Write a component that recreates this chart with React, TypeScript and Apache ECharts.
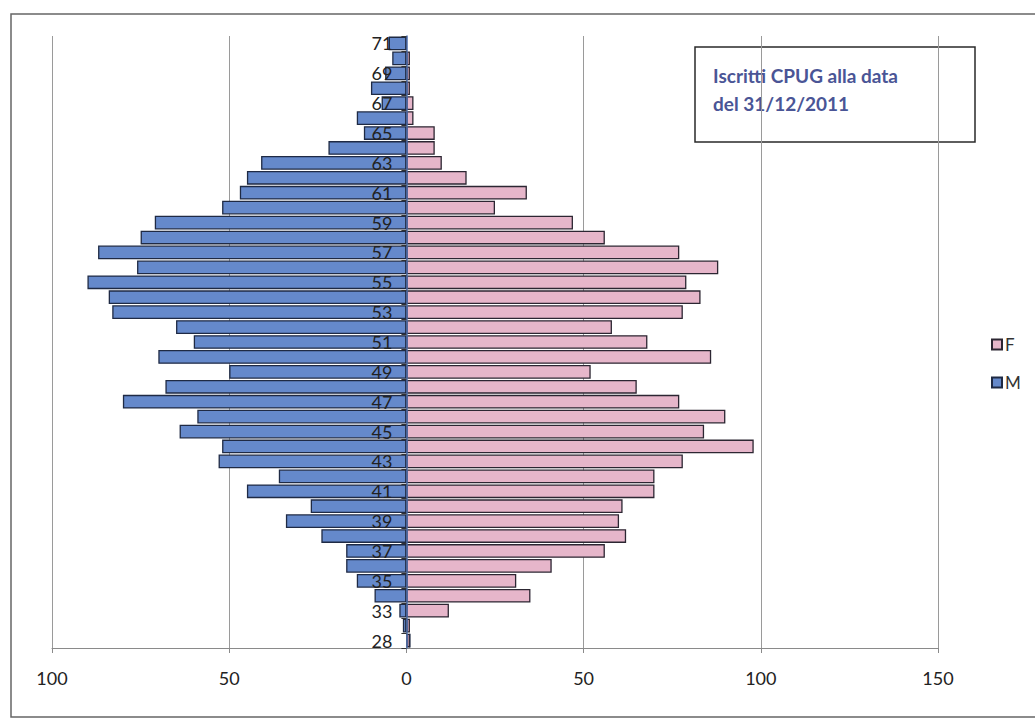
import React, { useEffect, useRef } from "react";
import * as echarts from "echarts";

// Age classes, bottom to top of the pyramid
const ages = [
  "28", "31", "33", "34", "35", "36", "37", "38", "39", "40",
  "41", "42", "43", "44", "45", "46", "47", "48", "49", "50",
  "51", "52", "53", "54", "55", "56", "57", "58", "59", "60",
  "61", "62", "63", "64", "65", "66", "67", "68", "69", "70", "71",
];

// Registered members per age, men
const maleCounts = [
  0, 1, 2, 9, 14, 17, 17, 24, 34, 27,
  45, 36, 53, 52, 64, 59, 80, 68, 50, 70,
  60, 65, 83, 84, 90, 76, 87, 75, 71, 52,
  47, 45, 41, 22, 12, 14, 7, 10, 6, 4, 5,
];

// Registered members per age, women
const femaleCounts = [
  1, 1, 12, 35, 31, 41, 56, 62, 60, 61,
  70, 70, 78, 98, 84, 90, 77, 65, 52, 86,
  68, 58, 78, 83, 79, 88, 77, 56, 47, 25,
  34, 17, 10, 8, 8, 2, 2, 1, 1, 1, 0,
];

const titleLines = ["Iscritti CPUG alla data", "del 31/12/2011"];

const FONT = "Lato, 'Open Sans', sans-serif";

// Value axis range; the age axis sits on the zero line
const X_MIN = -100;
const X_MAX = 150;
const GRID_LEFT = 52;
const GRID_RIGHT = 97;
const WIDTH = 1035;

export default function App() {
  const ref = useRef<HTMLDivElement>(null);

  useEffect(() => {
    if (!ref.current) return;
    const chart = echarts.init(ref.current, null, { renderer: "svg" });
    const plotWidth = WIDTH - GRID_LEFT - GRID_RIGHT;
    const zeroOffset = (plotWidth * (0 - X_MIN)) / (X_MAX - X_MIN);
    chart.setOption({
      animation: false,
      backgroundColor: "#ffffff",
      textStyle: { fontFamily: FONT },
      grid: { left: GRID_LEFT, right: GRID_RIGHT, top: 36, bottom: 72, containLabel: false },
      legend: {
        orient: "vertical",
        left: 986,
        top: 331,
        itemWidth: 10,
        itemHeight: 10,
        itemGap: 21,
        icon: "rect",
        data: ["F", "M"],
        textStyle: { fontSize: 17, color: "#333", fontFamily: FONT, padding: [0, 0, 0, -2] },
      },
      xAxis: {
        type: "value",
        min: X_MIN,
        max: X_MAX,
        interval: 50,
        axisLine: { show: true, lineStyle: { color: "#8a8a8a", width: 1 } },
        axisTick: { show: true, length: 5, lineStyle: { color: "#8a8a8a" } },
        splitLine: { show: true, lineStyle: { color: "#9a9a9a", width: 1 } },
        axisLabel: {
          margin: 21,
          fontSize: 18,
          color: "#222",
          fontFamily: FONT,
          formatter: (v: number) => String(Math.abs(v)),
        },
      },
      yAxis: {
        type: "category",
        data: ages,
        position: "left",
        offset: -zeroOffset,
        axisLine: { show: true, onZero: false, lineStyle: { color: "#4d6fae", width: 1.5 } },
        axisTick: { show: true, length: 5, interval: 0, lineStyle: { color: "#333" } },
        axisLabel: {
          interval: 1,
          margin: 14,
          fontSize: 18,
          color: "#222",
          fontFamily: FONT,
        },
        splitLine: { show: false },
        z: 5,
      },
      series: [
        {
          name: "F",
          type: "bar",
          stack: "pyramid",
          barCategoryGap: "8%",
          data: femaleCounts,
          itemStyle: { color: "#e6b6ca", borderColor: "#2c2632", borderWidth: 1.3 },
        },
        {
          name: "M",
          type: "bar",
          stack: "pyramid",
          barCategoryGap: "8%",
          data: maleCounts.map((v) => -v),
          itemStyle: { color: "#6589cb", borderColor: "#1f2a44", borderWidth: 1.3 },
        },
      ],
      graphic: [
        {
          type: "rect",
          z: 100,
          shape: { x: 11, y: 14, width: 1040, height: 703 },
          style: { fill: "none", stroke: "#666", lineWidth: 1.5 },
          silent: true,
        },
        {
          type: "group",
          z: 100,
          children: [
            {
              type: "rect",
              shape: { x: 695, y: 47, width: 280, height: 95 },
              style: { fill: "#ffffff", stroke: "#2a2a2a", lineWidth: 1.5 },
            },
            {
              type: "text",
              x: 713,
              y: 61,
              style: {
                text: titleLines.join("\n"),
                fontSize: 19,
                lineHeight: 28,
                fontWeight: "bold",
                fontFamily: FONT,
                fill: "#4a5596",
                verticalAlign: "top",
                align: "left",
              },
            },
          ],
        },
      ],
    });
    return () => chart.dispose();
  }, []);

  return (
    <div
      ref={ref}
      style={{ position: "fixed", left: 0, top: 0, width: 1035, height: 720, background: "#fff" }}
    />
  );
}
